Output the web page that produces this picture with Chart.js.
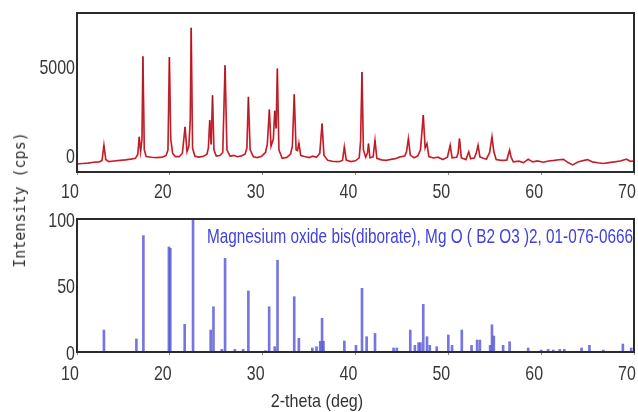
<!DOCTYPE html>
<html>
<head>
<meta charset="utf-8">
<script src="https://cdn.jsdelivr.net/npm/chart.js@4.4.1/dist/chart.umd.min.js"></script>
<style>
  html, body { margin: 0; padding: 0; background: #fff; }
  #page { position: relative; width: 638px; height: 412px; overflow: hidden; }
  #scan { position: absolute; left: 0; top: 0; }
  #ref { position: absolute; left: 0; top: 200px; }
  .ytitle {
    position: absolute; left: 20px; top: 200px;
    transform: translate(-50%, -50%) rotate(-90deg);
    font: 15px "DejaVu Sans Mono", monospace; color: #333; white-space: nowrap;
  }
  .xtitle {
    position: absolute; left: 317px; top: 401px;
    transform: translate(-50%, -50%) scaleX(0.85);
    font: 19px "Liberation Sans", sans-serif;
    color: #333; white-space: nowrap;
  }
</style>
</head>
<body>
<div id="page">
  <canvas id="scan" width="638" height="200"></canvas>
  <canvas id="ref" width="638" height="212"></canvas>
  <div class="ytitle">Intensity (cps)</div>
  <div class="xtitle">2-theta (deg)</div>
</div>
<script>
// measured scan (2-theta, counts)
const scanTheta = [10.0, 10.6, 11.2, 11.8, 12.4, 12.7, 12.9, 13.1, 13.4, 14.0, 14.6, 15.2, 15.8, 16.3, 16.55, 16.7, 16.85, 17.0, 17.1, 17.25, 17.45,
  18.0, 18.6, 19.2, 19.6, 19.8, 19.95, 20.1, 20.3, 20.6, 21.0, 21.35, 21.64, 21.85, 22.05, 22.2, 22.3, 22.45, 22.7, 23.1, 23.6,
  24.0, 24.15, 24.3, 24.45, 24.6, 24.75, 25.0, 25.4, 25.7, 25.95, 26.15, 26.5, 26.9, 27.3, 27.7, 28.1, 28.3, 28.46, 28.65, 29.0,
  29.4, 29.9, 30.3, 30.5, 30.72, 30.9, 31.15, 31.3, 31.45, 31.58, 31.75, 32.1, 32.6, 33.0, 33.2, 33.4, 33.6, 33.75, 33.9, 34.1,
  34.5, 35.0, 35.4, 35.8, 36.15, 36.4, 36.6, 37.0, 37.6, 38.2, 38.6, 38.8, 39.0, 39.5, 40.0, 40.4, 40.55, 40.7, 40.85, 41.1,
  41.3, 41.4, 41.55, 41.9, 42.1, 42.3, 42.8, 43.3, 43.8, 44.3, 44.8, 45.3, 45.5, 45.7, 45.9, 46.3, 46.7, 47.0, 47.3, 47.5,
  47.7, 47.9, 48.4, 48.9, 49.4, 49.9, 50.2, 50.4, 50.9, 51.05, 51.2, 51.4, 51.9, 52.2, 52.4, 52.8, 53.0, 53.2, 53.4, 53.7,
  54.1, 54.45, 54.7, 54.9, 55.15, 55.7, 56.3, 56.5, 56.6, 56.75, 57.0, 57.6, 58.1, 58.6, 59.1, 59.6, 60.2, 60.8, 61.4, 61.9,
  62.4, 62.9, 63.4, 63.9, 64.4, 65.0, 65.5, 66.1, 66.7, 67.3, 67.9, 68.5, 69.2, 69.6, 70.0];
const scanCps = [-500, -470, -450, -400, -380, -300, 560, -250, -360, -330, -300, -270, -230, -180, 50, 1030, 200, 900, 5560, 300, -80,
  -120, -140, -110, -20, 300, 5520, 900, 100, -80, -90, 100, 1590, 200, 500, 2000, 7170, 400, -60, -110, -70,
  50, 400, 1970, 600, 3370, 300, -50, -20, 150, 5056, 300, -60, -20, -90, -40, 50, 400, 3280, 300, -90,
  -140, -60, 150, 600, 2566, 500, 900, 2500, 1500, 4870, 300, -180, -130, 50, 500, 3430, 300, 250, 670, -20,
  -80, -140, -60, -120, 100, 1780, 0, -290, -360, -370, -300, 470, -280, -360, -320, -150, 800, 4680, 300, -120,
  150, 656, -150, -100, 840, -180, -270, -300, -240, -200, -100, -50, 200, 935, 0, -150, -50, 300, 2250, 400,
  650, -80, -160, -120, -250, -120, 560, -150, -120, 100, 935, -150, -250, 190, -200, -160, 100, 560, -100, -160,
  -230, 150, 1030, 200, -250, -300, -280, 100, 280, -100, -380, -340, -420, -230, -380, -330, -400, -330, -300, -260,
  -240, -420, -550, -400, -320, -250, -380, -430, -470, -420, -380, -330, -230, -350, -330];

// reference pattern 01-076-0666 (2-theta, relative intensity)
const refTheta = [12.9, 16.4, 17.15, 19.9, 20.05, 21.6, 22.5, 24.4, 24.7, 25.6, 25.95, 27.0, 27.9, 28.46, 30.3, 30.7, 31.3, 31.6,
  33.4, 33.9, 35.35, 35.8, 36.2, 36.4, 36.55, 38.8, 40.05, 40.7, 41.2, 42.1, 44.1, 44.45, 45.9, 46.4, 46.8, 47.0, 47.3,
  47.7, 48.0, 48.75, 50.0, 50.4, 51.45, 52.5, 53.1, 53.4, 54.5, 54.7, 54.9, 55.9, 56.6, 58.6, 60.0, 60.75, 61.3, 62.0,
  62.5, 64.35, 65.2, 66.7, 68.8, 69.7];
const refIntensity = [16.5, 9.8, 87.5, 79, 78, 20.8, 100, 16.5, 34, 2, 70.4, 2, 2, 45.9, 1, 34, 4, 69,
  41.6, 10.3, 3, 4, 8, 25.3, 8, 8.3, 5, 47.9, 11.5, 14, 3, 3, 16.5, 5, 7, 7, 35.8,
  11.5, 5, 4, 12.8, 5, 16.5, 5, 9, 9, 5, 20.5, 12, 5, 7.7, 3, 1.5, 2, 1.5, 2,
  2, 3, 5, 1.5, 6, 3];

const xTicks = [10, 20, 30, 40, 50, 60, 70];
const scanTicks = [0, 5000];
const refTicks = [0, 50, 100];
const refName = 'Magnesium oxide bis(diborate), Mg O ( B2 O3 )2, 01-076-0666';

const labelFont = '21px "Liberation Sans", sans-serif';

// draw text squeezed horizontally, like the narrow font of the original
function narrowText(ctx, text, px, py, align, sx) {
  ctx.save();
  ctx.translate(px, py);
  ctx.scale(sx, 1);
  ctx.textAlign = align;
  ctx.fillText(text, 0, 0);
  ctx.restore();
}

const boxPlugin = {
  id: 'box',
  afterDatasetsDraw(chart) {
    const { ctx, chartArea: a } = chart;
    ctx.save();
    ctx.strokeStyle = '#2b2b2b';
    ctx.lineWidth = 2;
    ctx.strokeRect(a.left, a.top, a.right - a.left, a.bottom - a.top);
    ctx.restore();
  }
};

const tickText = {
  id: 'tickText',
  afterDraw(chart, args, opts) {
    const { ctx, chartArea: a, scales: { x, y } } = chart;
    ctx.save();
    ctx.font = labelFont;
    ctx.fillStyle = '#383838';
    ctx.textBaseline = 'alphabetic';
    x.ticks.forEach(t => narrowText(ctx, String(t.value), x.getPixelForValue(t.value) - 7, a.bottom + opts.xGap + 7.5, 'center', 0.76));
    y.ticks.forEach(t => narrowText(ctx, String(t.value), a.left - 2, y.getPixelForValue(t.value) + 7.5, 'right', 0.76));
    ctx.restore();
  }
};

const refLabel = {
  id: 'refLabel',
  afterDraw(chart) {
    const { ctx, chartArea: a } = chart;
    ctx.save();
    ctx.font = labelFont;
    ctx.fillStyle = '#4040e0';
    ctx.textBaseline = 'middle';
    const w = ctx.measureText(refName).width;
    narrowText(ctx, refName, a.right - 1, a.top + 18, 'right', (a.right - 1 - (a.left + 130)) / w);
    ctx.restore();
  }
};

function xScale(height) {
  return {
    type: 'linear', min: 10, max: 70, offset: false,
    afterBuildTicks: s => { s.ticks = xTicks.map(v => ({ value: v })); },
    afterFit: s => { s.height = height; },
    grid: { drawOnChartArea: false, drawTicks: true, tickLength: 3, color: '#888', offset: false },
    border: { display: false },
    ticks: { display: false }
  };
}

function yScale(min, max, list) {
  return {
    min: min, max: max,
    afterBuildTicks: s => { s.ticks = list.map(v => ({ value: v })); },
    afterFit: s => { s.width = 77; },
    grid: { display: false, drawTicks: false },
    border: { display: false },
    ticks: { display: false }
  };
}

new Chart(document.getElementById('scan'), {
  type: 'line',
  data: {
    datasets: [{
      data: scanTheta.map((t, i) => ({ x: t, y: scanCps[i] })),
      borderColor: 'rgba(70, 0, 0, 0.5)',
      borderWidth: 0.7,
      pointRadius: 0,
      tension: 0
    }, {
      data: scanTheta.map((t, i) => ({ x: t, y: scanCps[i] })),
      borderColor: 'rgba(228, 28, 40, 0.9)',
      borderWidth: 1.7,
      pointRadius: 0,
      tension: 0
    }]
  },
  options: {
    responsive: false,
    animation: false,
    layout: { padding: { top: 13, right: 4, left: 0, bottom: 0 } },
    plugins: { legend: { display: false }, tooltip: { enabled: false }, tickText: { xGap: 18.5 } },
    scales: { x: xScale(28), y: yScale(-950, 8000, scanTicks) }
  },
  plugins: [boxPlugin, tickText]
});

new Chart(document.getElementById('ref'), {
  type: 'bar',
  data: {
    datasets: [{
      data: refTheta.map((t, i) => ({ x: t, y: refIntensity[i] })),
      backgroundColor: 'rgba(84, 84, 214, 0.8)',
      barThickness: 2,
      borderWidth: 0
    }]
  },
  options: {
    responsive: false,
    animation: false,
    layout: { padding: { top: 19, right: 4, left: 0, bottom: 0 } },
    plugins: { legend: { display: false }, tooltip: { enabled: false }, tickText: { xGap: 20.5 } },
    scales: { x: xScale(60), y: yScale(0, 100, refTicks) }
  },
  plugins: [boxPlugin, tickText, refLabel]
});
</script>
</body>
</html>
